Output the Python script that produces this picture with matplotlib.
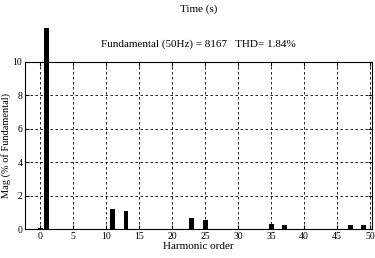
import matplotlib
matplotlib.use("Agg")
import matplotlib.pyplot as plt
from matplotlib.transforms import Bbox, TransformedBbox
import numpy as np

# Harmonic spectrum data (% of fundamental)
harmonics = list(range(0, 50))
magnitude = [0.08, 100.0, 0.03, 0.03, 0.03, 0.03, 0.03, 0.03, 0.03, 0.03,
             0.03, 1.2, 0.03, 1.08, 0.03, 0.03, 0.03, 0.03, 0.03, 0.03,
             0.03, 0.03, 0.03, 0.68, 0.03, 0.54, 0.03, 0.03, 0.03, 0.03,
             0.03, 0.03, 0.03, 0.03, 0.03, 0.3, 0.03, 0.25, 0.03, 0.03,
             0.03, 0.03, 0.03, 0.03, 0.03, 0.03, 0.03, 0.25, 0.03, 0.25]
x_ticks = [0, 5, 10, 15, 20, 25, 30, 35, 40, 45, 50]
y_ticks = [0, 2, 4, 6, 8, 10]
title_text = "Fundamental (50Hz) = 8167   THD= 1.84%"

plt.rcParams["font.family"] = ["Liberation Serif", "DejaVu Serif"]

fig = plt.figure(figsize=(3.75, 2.58), dpi=100)
ax = fig.add_axes([0.067, 0.112, 0.925, 0.648])

bars = ax.bar(harmonics, magnitude, width=0.75, color="black", zorder=3)
# fundamental bar runs past the axes top and is cut by the upper subplot
clip = TransformedBbox(Bbox([[-0.1, 0.0], [1.1, 1.2]]), ax.transAxes)
for b in bars:
    b.set_clip_box(clip)

ax.set_xlim(-2.3, 50.3)
ax.set_ylim(0, 10)
ax.set_xticks(x_ticks)
ax.set_yticks(y_ticks)
ax.tick_params(direction="in", labelsize=7, length=3, top=True, right=True, pad=2)
ax.grid(True, color="black", linestyle=(0, (3, 3)), linewidth=0.6)
for s in ax.spines.values():
    s.set_linewidth(0.8)

ax.set_title(title_text, fontsize=8, pad=11)
ax.set_xlabel("Harmonic order", fontsize=8, labelpad=1)
ax.set_ylabel("Mag (% of Fundamental)", fontsize=7.5, labelpad=1)
fig.text(0.53, 0.965, "Time (s)", fontsize=8, ha="center", va="center")

fig.savefig("out.png", dpi=100)
